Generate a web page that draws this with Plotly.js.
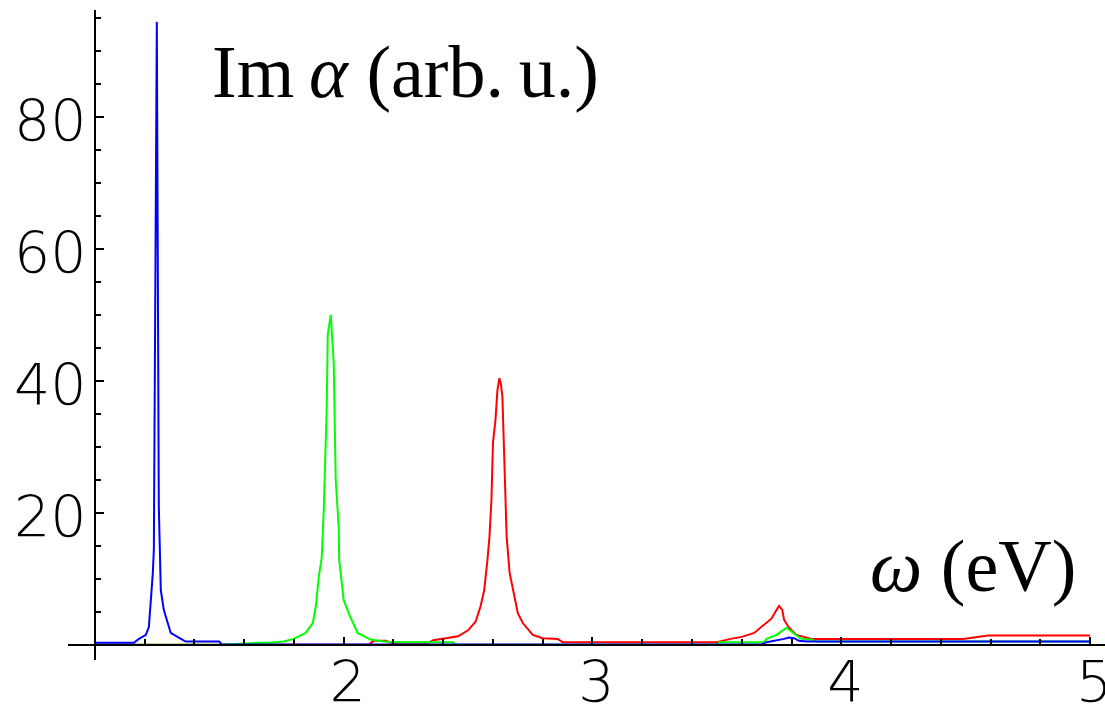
<!DOCTYPE html>
<html>
<head>
<meta charset="utf-8">
<script src="https://cdn.plot.ly/plotly-3.0.1.min.js"></script>
<style>html,body{margin:0;padding:0;background:#fff;}#chart{width:1105px;height:714px;}</style>
</head>
<body>
<div id="chart"></div>
<script>
// omega (eV) and Im alpha (arb. u.) for the three spectra
const blueX = [1.00, 1.10, 1.157, 1.177, 1.205, 1.217, 1.225, 1.233, 1.237, 1.249, 1.257, 1.262, 1.265, 1.277, 1.293, 1.305, 1.337, 1.365, 1.40, 1.50, 1.51, 2.00, 3.00, 3.68, 3.70, 3.75, 3.77, 3.79, 3.81, 3.83, 3.86, 4.00, 4.50, 5.00];
const blueY = [0.3, 0.3, 0.3, 0.9, 1.5, 2.7, 6.4, 10.9, 14.4, 94.4, 21, 10, 8.3, 5.3, 3.3, 1.8, 1.1, 0.5, 0.5, 0.5, 0.05, 0.05, 0.05, 0.05, 0.4, 0.7, 0.9, 1.1, 1.0, 0.6, 0.5, 0.5, 0.5, 0.5];

const greenX = [1.00, 1.50, 1.655, 1.70, 1.759, 1.799, 1.847, 1.876, 1.888, 1.900, 1.912, 1.920, 1.932, 1.936, 1.948, 1.960, 1.968, 1.980, 1.982, 2.000, 2.020, 2.056, 2.108, 2.160, 2.230, 2.440, 2.450, 3.500, 3.510, 3.690, 3.700, 3.740, 3.780, 3.810, 3.835, 3.860, 3.880, 3.900, 5.000];
const greenY = [0, 0, 0.3, 0.3, 0.5, 0.9, 1.8, 3.3, 5.8, 10.3, 13.3, 20.5, 36, 47, 50, 42.7, 25, 17.9, 12.9, 6.8, 4.8, 1.8, 0.8, 0.5, 0.4, 0.4, 0, 0, 0.4, 0.4, 0.9, 1.5, 2.6, 1.8, 1.0, 0.8, 0.8, 0.5, 0.5];

const redX = [1.00, 2.10, 2.12, 2.17, 2.19, 2.34, 2.36, 2.42, 2.46, 2.50, 2.53, 2.55, 2.565, 2.578, 2.586, 2.594, 2.600, 2.610, 2.618, 2.626, 2.632, 2.638, 2.643, 2.655, 2.667, 2.683, 2.70, 2.72, 2.76, 2.80, 2.86, 2.88, 3.50, 3.555, 3.60, 3.65, 3.69, 3.72, 3.74, 3.75, 3.763, 3.77, 3.79, 3.82, 3.85, 3.88, 4.49, 4.59, 5.00];
const redY = [0, 0, 0.6, 0.6, 0.3, 0.3, 0.7, 1.0, 1.3, 2.2, 3.5, 5.8, 8.3, 12.9, 16.4, 22, 30.6, 34, 38.6, 40.4, 39.5, 37.6, 31.5, 16.4, 10.9, 7.9, 4.8, 3.3, 1.5, 1.0, 0.9, 0.4, 0.4, 0.9, 1.2, 1.8, 3.0, 4.0, 5.3, 5.9, 5.3, 3.8, 2.6, 1.5, 1.2, 0.9, 0.9, 1.4, 1.4];

const xTickVals = [2, 3, 4, 5];
const xTickText = ['2', '3', '4', '5'];
const yTickVals = [20, 40, 60, 80];
const yTickText = ['20', '40', '60', '80'];

const yLabel = 'Im\u2009<i>α</i> (arb.\u2009u.)';
const xLabel = '<i>ω</i> (eV)';

const xRange = [0.892, 5.06];
const yRange = [-2.3, 96.2];

const tickFont = {family: 'DejaVu Sans ExtraLight, DejaVu Sans', size: 57, color: '#000', weight: 200};
const labelFont = {family: 'Liberation Serif, Times New Roman, serif', size: 74, color: '#000'};

function line(x, y, color) {
  return {x: x, y: y, type: 'scatter', mode: 'lines', line: {color: color, width: 2}, hoverinfo: 'skip', cliponaxis: true};
}

const data = [line(redX, redY, '#ff0000'), line(greenX, greenY, '#00ff00'), line(blueX, blueY, '#0000ff')];

const layout = {
  width: 1105, height: 714,
  margin: {l: 68, r: 0, t: 10, b: 54},
  paper_bgcolor: '#fff', plot_bgcolor: '#fff',
  showlegend: false,
  xaxis: {
    range: xRange, anchor: 'free', position: (0 - yRange[0]) / (yRange[1] - yRange[0]),
    showline: true, linecolor: '#000', linewidth: 2, zeroline: false, showgrid: false,
    tickmode: 'array', tickvals: xTickVals, ticktext: xTickText,
    ticks: 'inside', ticklen: 7, tickwidth: 2, tickcolor: '#000',
    tickfont: tickFont, ticklabelstandoff: -12, ticklabelshift: 4, ticklabeloverflow: 'allow',
    minor: {tickmode: 'linear', tick0: 0, dtick: 0.2, ticks: 'inside', ticklen: 5, tickwidth: 2, tickcolor: '#000', showgrid: false}
  },
  yaxis: {
    range: yRange, anchor: 'free', position: (1 - xRange[0]) / (xRange[1] - xRange[0]),
    showline: true, linecolor: '#000', linewidth: 2, zeroline: false, showgrid: false,
    tickmode: 'array', tickvals: yTickVals, ticktext: yTickText,
    ticks: 'inside', ticklen: 8, tickwidth: 2, tickcolor: '#000',
    tickfont: tickFont, ticklabelstandoff: -4, ticklabelshift: 4, ticklabeloverflow: 'allow',
    minor: {tickmode: 'linear', tick0: 0, dtick: 5, ticks: 'inside', ticklen: 5, tickwidth: 2, tickcolor: '#000', showgrid: false}
  },
  annotations: [
    {text: yLabel, xref: 'paper', yref: 'paper', x: (210 - 68) / 1037, y: (660 - 72) / 650, xanchor: 'left', yanchor: 'middle', showarrow: false, font: labelFont},
    {text: xLabel, xref: 'paper', yref: 'paper', x: (1078 - 68) / 1037, y: (660 - 566) / 650, xanchor: 'right', yanchor: 'middle', showarrow: false, font: labelFont}
  ]
};

Plotly.newPlot('chart', data, layout, {staticPlot: true, displayModeBar: false});
</script>
</body>
</html>
